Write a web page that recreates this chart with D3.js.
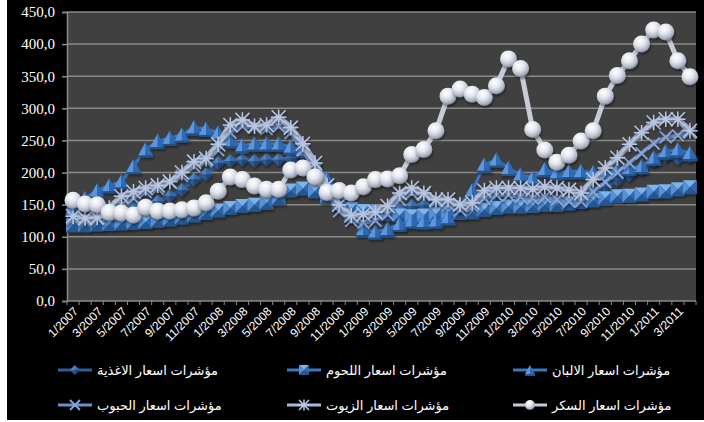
<!DOCTYPE html>
<html>
<head>
<meta charset="utf-8">
<script src="https://cdn.jsdelivr.net/npm/d3@7"></script>
<style>
  html, body { margin: 0; padding: 0; background: #ffffff; }
  svg { display: block; }
</style>
</head>
<body>
<svg id="chart"></svg>
<script>
// categories (monthly, 1/2007 .. 4/2011)
const months = [
  "1/2007","2/2007","3/2007","4/2007","5/2007","6/2007","7/2007","8/2007","9/2007","10/2007","11/2007","12/2007",
  "1/2008","2/2008","3/2008","4/2008","5/2008","6/2008","7/2008","8/2008","9/2008","10/2008","11/2008","12/2008",
  "1/2009","2/2009","3/2009","4/2009","5/2009","6/2009","7/2009","8/2009","9/2009","10/2009","11/2009","12/2009",
  "1/2010","2/2010","3/2010","4/2010","5/2010","6/2010","7/2010","8/2010","9/2010","10/2010","11/2010","12/2010",
  "1/2011","2/2011","3/2011","4/2011"
];

const foodIndex = [125,128,130,135,140,145,150,155,163,173, 189,197,215,218,220,218,220,220,222,210,
  195,178,162,150,140,137,138,143,148,150, 147,150,148,152,158,162,165,162,158,157,
  157,157,160,168,178,188,196,205,218,225, 222,225];
const meatIndex = [118,118,119,120,121,122,123,125,127,130, 133,137,141,145,148,150,153,160,172,175,
  171,162,152,143,140,138,135,133,132,133, 135,137,137,138,142,145,147,147,148,150,
  150,152,154,157,160,163,164,166,170,171, 174,177];
const dairyIndex = [145,160,172,180,186,210,236,249,254,259, 270,268,262,250,242,245,245,245,240,235,
  215,190,160,135,112,108,112,120,125,124, 125,130,150,172,212,220,207,197,192,205,
  200,202,202,200,200,205,207,210,223,233, 236,230];
const cerealsIndex = [128,125,128,135,150,160,170,175,185,195, 210,218,235,262,272,270,268,272,262,235,
  205,170,140,125,122,125,135,158,168,165, 155,150,142,148,160,165,165,162,160,162,
  158,155,155,170,185,200,215,230,245,255, 258,262];
const oilsIndex = [132,129,130,145,163,170,176,180,186,200, 217,222,244,274,282,272,274,286,270,245,
  215,180,150,133,135,138,148,168,176,168, 158,158,150,153,172,176,176,176,174,178,
  176,173,168,189,207,223,244,262,278,283, 283,265];
const sugarIndex = [157,151,150,138,137,134,146,140,140,142, 145,153,171,193,189,179,174,174,204,207,
  193,169,172,168,178,189,190,195,228,236, 265,319,330,322,317,335,377,362,267,235,
  216,227,249,265,319,351,374,400,422,419, 374,349];

const yTicks = [0,50,100,150,200,250,300,350,400,450];

const seriesNames = [
  "مؤشرات اسعار الاغذية",
  "مؤشرات اسعار اللحوم",
  "مؤشرات اسعار الالبان",
  "مؤشرات اسعار الحبوب",
  "مؤشرات اسعار الزيوت",
  "مؤشرات اسعار السكر"
];

const W = 704, H = 422;
const plot = { left: 67, right: 696, top: 12, bottom: 301 };

const svg = d3.select("#chart").attr("width", W).attr("height", H);

// background
svg.append("rect").attr("x", 7).attr("y", 0).attr("width", W - 7).attr("height", 420).attr("fill", "#000");
svg.append("rect")
  .attr("x", plot.left).attr("y", plot.top)
  .attr("width", plot.right - plot.left).attr("height", plot.bottom - plot.top)
  .attr("fill", "#404040");

const x = d3.scaleBand().domain(months).range([plot.left, plot.right]);
const y = d3.scaleLinear().domain([0, 450]).range([plot.bottom, plot.top]);
const cx = d => x(d) + x.bandwidth() / 2;

// gradients
const defs = svg.append("defs");
const radial = defs.append("radialGradient").attr("id", "ball")
  .attr("cx", "40%").attr("cy", "30%").attr("r", "70%");
radial.append("stop").attr("offset", "0%").attr("stop-color", "#ffffff");
radial.append("stop").attr("offset", "45%").attr("stop-color", "#e3e6ee");
radial.append("stop").attr("offset", "85%").attr("stop-color", "#a9b0bf");
radial.append("stop").attr("offset", "100%").attr("stop-color", "#7d8596");

const shadow = defs.append("filter").attr("id", "shadow").attr("x", "-50%").attr("y", "-50%")
  .attr("width", "200%").attr("height", "200%");
shadow.append("feDropShadow").attr("dx", 1).attr("dy", 2).attr("stdDeviation", 1)
  .attr("flood-color", "#000").attr("flood-opacity", 0.45);

// gridlines
svg.append("g").selectAll("line").data(yTicks.filter(t => t > 0)).join("line")
  .attr("x1", plot.left).attr("x2", plot.right)
  .attr("y1", d => y(d)).attr("y2", d => y(d))
  .attr("stroke", "#8a8a8a").attr("stroke-width", 1.5);

// y axis
const yAxis = svg.append("g").attr("transform", `translate(${plot.left},0)`)
  .call(d3.axisLeft(y).tickValues(yTicks).tickSize(5)
    .tickFormat(d => d3.format(".1f")(d).replace(".", ",")));
yAxis.select(".domain").attr("stroke", "#8a8a8a").attr("stroke-width", 1.5);
yAxis.selectAll(".tick line").attr("stroke", "#8a8a8a").attr("stroke-width", 1.5);
yAxis.selectAll(".tick text")
  .attr("x", -12)
  .attr("fill", "#fff")
  .style("font-family", "'Times New Roman', 'Liberation Serif', serif")
  .style("font-size", "15px");

// x axis
svg.append("line")
  .attr("x1", plot.left).attr("x2", plot.right)
  .attr("y1", plot.bottom).attr("y2", plot.bottom)
  .attr("stroke", "#8a8a8a").attr("stroke-width", 1.5);
svg.append("g").selectAll("line").data(months.concat(["end"])).join("line")
  .attr("x1", (d, i) => plot.left + i * x.bandwidth())
  .attr("x2", (d, i) => plot.left + i * x.bandwidth())
  .attr("y1", plot.bottom).attr("y2", plot.bottom + 4)
  .attr("stroke", "#8a8a8a").attr("stroke-width", 1);

svg.append("g").selectAll("text").data(months.filter((d, i) => i % 2 === 0)).join("text")
  .attr("transform", d => `translate(${cx(d) + 6},${plot.bottom + 11}) rotate(-45)`)
  .attr("text-anchor", "end")
  .attr("fill", "#fff")
  .style("font-family", "Arial, 'Liberation Sans', sans-serif")
  .style("font-size", "12px")
  .text(d => d);

// marker painters: (g, size) draws a marker centred on 0,0
const facetSquare = (g, s) => {
  const h = s / 2;
  g.append("path").attr("d", `M${-h},${-h}L${h},${-h}L0,0Z`).attr("fill", "#80b3ea");
  g.append("path").attr("d", `M${-h},${-h}L${-h},${h}L0,0Z`).attr("fill", "#5691d6");
  g.append("path").attr("d", `M${h},${-h}L${h},${h}L0,0Z`).attr("fill", "#2f68ad");
  g.append("path").attr("d", `M${-h},${h}L${h},${h}L0,0Z`).attr("fill", "#275690");
};
const facetDiamond = (g, s) => {
  const h = s / 2;
  g.append("path").attr("d", `M0,${-h}L${-h},0L0,0Z`).attr("fill", "#4f86c6");
  g.append("path").attr("d", `M0,${-h}L${h},0L0,0Z`).attr("fill", "#3a6aa6");
  g.append("path").attr("d", `M0,${h}L${-h},0L0,0Z`).attr("fill", "#2d5a92");
  g.append("path").attr("d", `M0,${h}L${h},0L0,0Z`).attr("fill", "#214675");
};
const facetTriangle = (g, s) => {
  const h = s / 2;
  g.append("path").attr("d", `M0,${-h}L${-h},${h * 0.8}L0,${h * 0.8}Z`).attr("fill", "#5c97de");
  g.append("path").attr("d", `M0,${-h}L${h},${h * 0.8}L0,${h * 0.8}Z`).attr("fill", "#2f6ab3");
  g.append("rect").attr("x", -h).attr("y", h * 0.8).attr("width", s).attr("height", 2).attr("fill", "#24528c");
};
const crossX = (g, s) => {
  const h = s / 2;
  g.append("path").attr("d", `M${-h},${-h}L${h},${h}M${-h},${h}L${h},${-h}`)
    .attr("stroke", "#88a6d8").attr("stroke-width", 1.8).attr("fill", "none");
};
const asterisk = (g, s) => {
  const h = s / 2;
  g.append("path")
    .attr("d", `M${-h},${-h}L${h},${h}M${-h},${h}L${h},${-h}M0,${-h * 1.1}L0,${h * 1.1}M${-h * 1.1},0L${h * 1.1},0`)
    .attr("stroke", "#b7c6e3").attr("stroke-width", 1.5).attr("fill", "none");
};
const ball = (g, s) => {
  g.append("circle").attr("r", s / 2).attr("fill", "url(#ball)");
};

const series = [
  { name: seriesNames[0], values: foodIndex, line: "#2f5e9c", width: 4, marker: facetDiamond, size: 14 },
  { name: seriesNames[1], values: meatIndex, line: "#3a78c4", width: 4, marker: facetSquare, size: 14 },
  { name: seriesNames[2], values: dairyIndex, line: "#3a78c4", width: 3, marker: facetTriangle, size: 15 },
  { name: seriesNames[3], values: cerealsIndex, line: "#6f8fc8", width: 4, marker: crossX, size: 12 },
  { name: seriesNames[4], values: oilsIndex, line: "#a9b8d6", width: 6, marker: asterisk, size: 14 },
  { name: seriesNames[5], values: sugarIndex, line: "#c6cbd6", width: 5, marker: ball, size: 17 }
];

const lineGen = d3.line().x(d => cx(d.month)).y(d => y(d.value));

series.forEach(s => {
  const pts = months.map((m, i) => ({ month: m, value: s.values[i] }));
  const g = svg.append("g");
  g.append("path").datum(pts)
    .attr("d", lineGen)
    .attr("fill", "none")
    .attr("stroke", s.line)
    .attr("stroke-width", s.width)
    .attr("stroke-linejoin", "round");
  g.selectAll("g.mk").data(pts).join("g")
    .attr("class", "mk")
    .attr("filter", "url(#shadow)")
    .attr("transform", d => `translate(${cx(d.month)},${y(d.value)})`)
    .each(function () { s.marker(d3.select(this), s.size); });
});

// legend, 2 rows x 3 columns
const legendCols = [58, 287, 513];
const legendRows = [370, 405];
series.forEach((s, i) => {
  const lx = legendCols[i % 3], ly = legendRows[Math.floor(i / 3)];
  const g = svg.append("g").attr("transform", `translate(${lx},${ly})`);
  g.append("line").attr("x1", 0).attr("x2", 34).attr("y1", 0).attr("y2", 0)
    .attr("stroke", s.line).attr("stroke-width", Math.min(s.width, 3));
  const mk = g.append("g").attr("transform", "translate(17,0)");
  s.marker(mk, Math.min(s.size, 10));
  g.append("text")
    .attr("x", 39).attr("y", 0).attr("dy", "0.35em")
    .attr("fill", "#fff")
    .style("font-family", "Arial, 'Liberation Sans', 'DejaVu Sans', sans-serif")
    .style("font-size", "13px")
    .text(s.name);
});
</script>
</body>
</html>
